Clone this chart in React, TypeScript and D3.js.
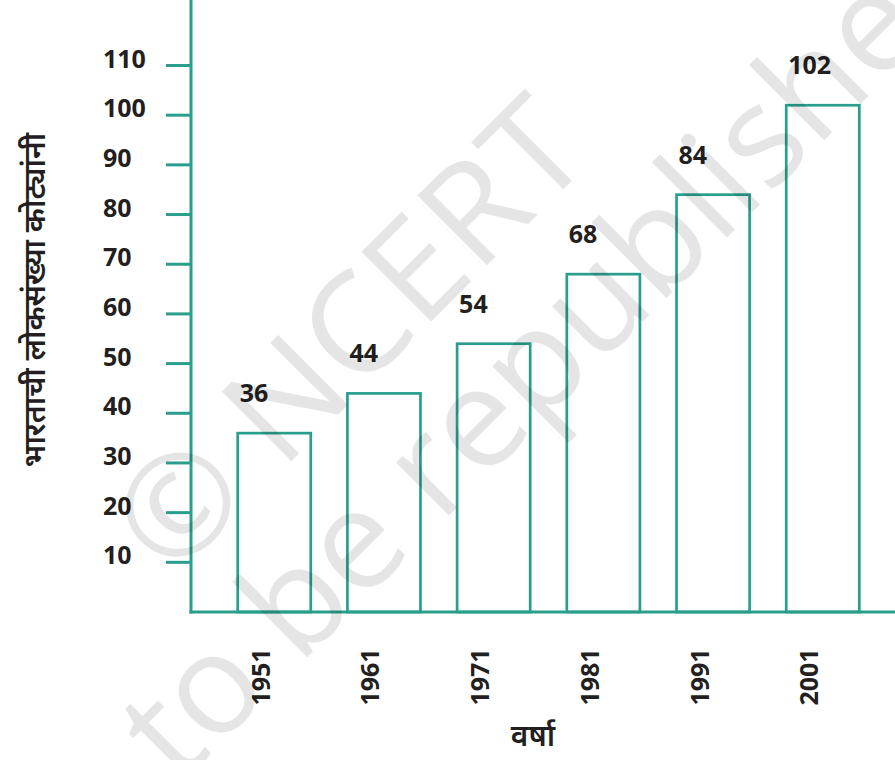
import React from "react";
import * as d3 from "d3";

const years = ["1951", "1961", "1971", "1981", "1991", "2001"];
const population = [36, 44, 54, 68, 84, 102];
const yTicks = [10, 20, 30, 40, 50, 60, 70, 80, 90, 100, 110];
const yTitle = "भारताची लोकसंख्या कोट्यांनी";
const xTitle = "वर्षा";
const watermark1 = "© NCERT";
const watermark2 = "to be republished";

const W = 895;
const H = 760;
const TEAL = "#2a9e8c";
const INK = "#231f20";
const NUM_FONT = "'Open Sans', 'Noto Sans', sans-serif";
const DEV_FONT = "'Noto Sans Devanagari', 'Noto Sans', 'Lohit Devanagari', 'FreeSans', sans-serif";

export default function App() {
  const axisX = 191;
  const baseY = 612;
  const x = d3.scaleBand<string>().domain(years).range([237.7, 859.3]).paddingInner(0.334).paddingOuter(0);
  const y = d3.scaleLinear().domain([0, 110]).range([baseY, 65.5]);

  return (
    <svg
      width={W}
      height={H}
      viewBox={`0 0 ${W} ${H}`}
      style={{ position: "absolute", left: 0, top: 0, display: "block", background: "#fff" }}
    >
      <rect x={0} y={0} width={W} height={H} fill="#fff" />
      {/* bars */}
      {years.map((yr, i) => (
        <rect
          key={yr}
          x={x(yr)}
          y={y(population[i])}
          width={x.bandwidth()}
          height={baseY - y(population[i])}
          fill="none"
          stroke={TEAL}
          strokeWidth={2.7}
        />
      ))}
      {/* axes */}
      <line x1={axisX} y1={0} x2={axisX} y2={baseY + 1.5} stroke={TEAL} strokeWidth={3} />
      <line x1={axisX - 1.5} y1={baseY} x2={W} y2={baseY} stroke={TEAL} strokeWidth={3} />
      {yTicks.map((t) => (
        <g key={t}>
          <line x1={166} y1={y(t)} x2={axisX} y2={y(t)} stroke={TEAL} strokeWidth={3} />
          <text
            x={103}
            y={y(t) + 2}
            fontFamily={NUM_FONT}
            fontWeight={700}
            fontSize={25}
            fill={INK}
          >
            {t}
          </text>
        </g>
      ))}
      {/* value labels */}
      {years.map((yr, i) => (
        <text
          key={"v" + yr}
          x={(x(yr) as number) + 2}
          y={y(population[i]) - 31}
          fontFamily={NUM_FONT}
          fontWeight={700}
          fontSize={25}
          fill={INK}
        >
          {population[i]}
        </text>
      ))}
      {/* year labels */}
      {years.map((yr) => {
        const cx = (x(yr) as number) + x.bandwidth() / 2 - 4.5;
        return (
          <text
            key={"y" + yr}
            transform={`translate(${cx},677) rotate(-90)`}
            textAnchor="middle"
            fontFamily={NUM_FONT}
            fontWeight={700}
            fontSize={25}
            fill={INK}
          >
            {yr}
          </text>
        );
      })}
      {/* axis titles */}
      <text
        transform={`translate(45,300) rotate(-90)`}
        textAnchor="middle"
        fontFamily={DEV_FONT}
        fontWeight={600}
        fontSize={30}
        fill={INK}
      >
        {yTitle}
      </text>
      <text
        x={533}
        y={746}
        textAnchor="middle"
        fontFamily={DEV_FONT}
        fontWeight={600}
        fontSize={30}
        fill={INK}
      >
        {xTitle}
      </text>
      {/* watermark */}
      <g transform="rotate(-45)" fill="#000" fillOpacity={0.1} fontFamily="'Open Sans', 'Noto Sans', sans-serif">
        <text x={10} y={532} textAnchor="middle" fontSize={138} textLength={600} lengthAdjust="spacingAndGlyphs">
          {watermark1}
        </text>
        <text x={-430} y={682} fontSize={140}>
          {watermark2}
        </text>
      </g>
    </svg>
  );
}
